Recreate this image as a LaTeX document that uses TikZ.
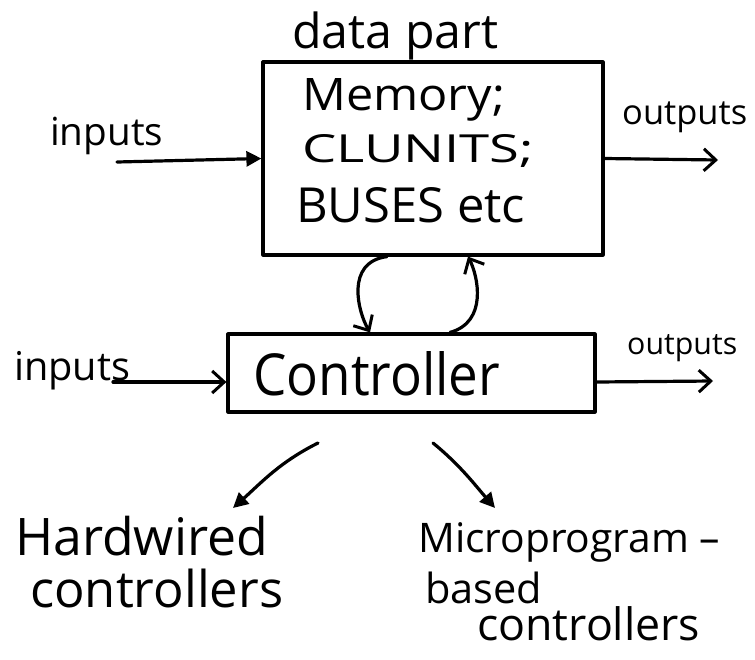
\documentclass[tikz,border=0pt]{standalone}
\usepackage{fontspec}
\usepackage{graphicx}
\setmainfont{Open Sans}
\usetikzlibrary{arrows.meta}
\newcommand\fitw[2]{\resizebox{#1pt}{!}{#2}}
\newcommand\fitwh[3]{\resizebox{#1pt}{#2pt}{#3}}
\tikzset{
  stroke/.style={line width=3.2pt, line cap=round, line join=round},
  blockbox/.style={stroke, draw=black, inner sep=0pt},
  lbl/.style={anchor=base west, inner sep=0pt, font=\fontsize{40}{48}\selectfont},
  barb/.style={stroke, -{Straight Barb[length=12pt, width=22pt, line width=3pt]}},
  tri/.style={stroke, -{Triangle[length=15pt, width=15pt]}},
  trifill/.style={stroke, -{Triangle[length=15pt, width=15pt]}},
}
\begin{document}
\begin{tikzpicture}[x=1pt,y=-1pt]
\useasboundingbox[fill=white] (0,0) rectangle (755,659);

% boxes
\node[blockbox, minimum width=340pt, minimum height=193pt] (data) at (433,158.5) {};
\node[blockbox, minimum width=367pt, minimum height=78pt] (ctrl) at (411.5,373) {};

% texts
\node[lbl] (tdata) at (292,48) {\fitw{206}{data part}};
\node[lbl] (tmem) at (302,110) {\fitwh{203}{32}{Memory;}};
\node[lbl] (tclu) at (302,162) {\fitwh{232}{28}{CLUNITS;}};
\node[lbl] (tbus) at (296,222) {\fitwh{229}{35}{BUSES etc}};
\node[lbl] (tctrl) at (253,395) {\fitwh{247}{44}{Controller}};
\node[lbl] (tin1) at (50,145) {\fitw{113}{inputs}};
\node[lbl] (tout1) at (622,124) {\fitw{125}{outputs}};
\node[lbl] (tin2) at (14,380) {\fitw{116}{inputs}};
\node[lbl] (tout2) at (627,354) {\fitw{110}{outputs}};
\node[lbl] (thw1) at (15,555) {\fitw{253}{Hardwired}};
\node[lbl] (thw2) at (30,607) {\fitw{253}{controllers}};
\node[lbl] (tmp1) at (418,552) {\fitw{302}{Microprogram –}};
\node[lbl] (tmp2) at (425,603) {\fitw{117}{based}};
\node[lbl] (tmp3) at (477,640) {\fitw{223}{controllers}};

% free ends
\coordinate (in1) at (117,162);
\coordinate (out1) at (718,160);
\coordinate (in2) at (113,382);
\coordinate (out2) at (713,381);
\coordinate (hwS) at (318,443);
\coordinate (hwE) at (233,508);
\coordinate (mpS) at (433,443);
\coordinate (mpE) at (495,508);

% connectors
\draw[trifill] (in1) -- (data.west);
\draw[barb] (data.east) -- (out1);
\draw[barb] (in2) -- ([yshift=-9pt]ctrl.west);
\draw[barb] ([yshift=-9pt]ctrl.east) -- (out2);

\draw[barb] ([xshift=-46pt]data.south) .. controls (345,262) and (358,312) .. ([xshift=-41.5pt]ctrl.north);
\draw[barb] ([xshift=38.5pt]ctrl.north) .. controls (488,322) and (478,276) .. ([xshift=35pt]data.south);

\draw[tri] (hwS) .. controls (280,462) and (262,482) .. (hwE);
\draw[tri] (mpS) .. controls (460,465) and (475,485) .. (mpE);
\end{tikzpicture}
\end{document}
